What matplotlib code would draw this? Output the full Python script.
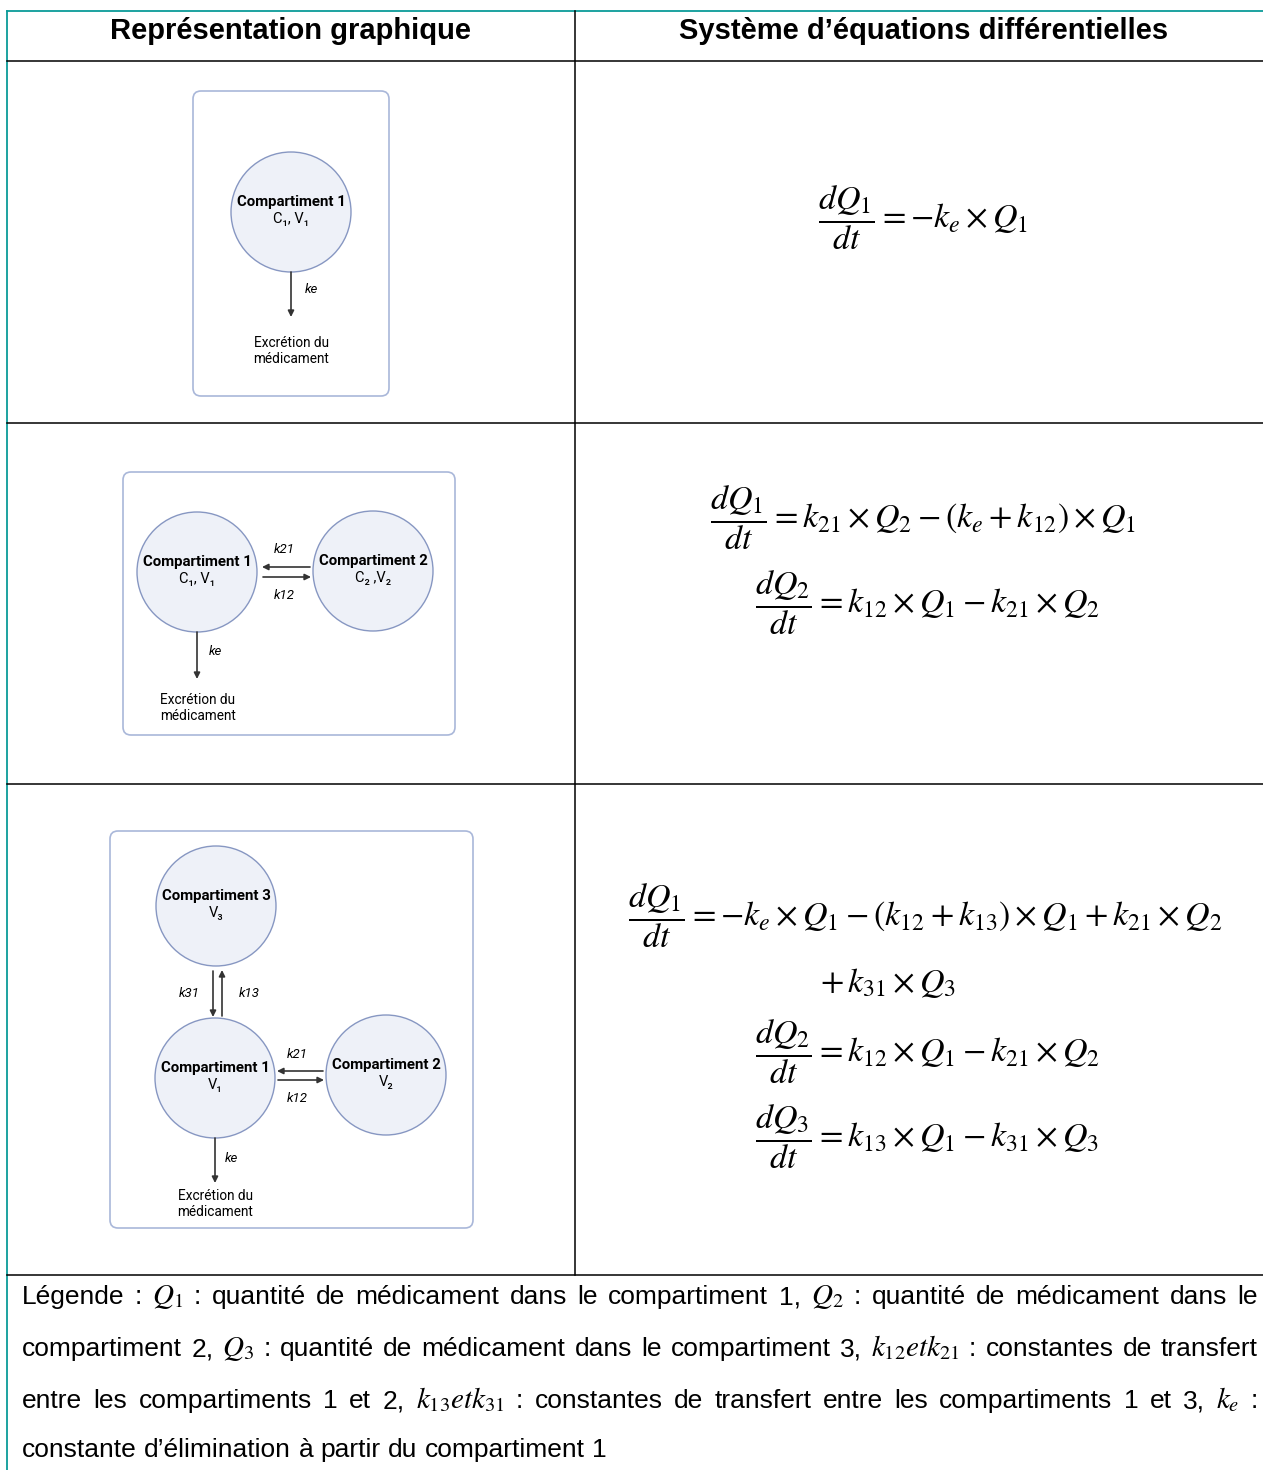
import matplotlib
matplotlib.use("Agg")
import matplotlib.pyplot as plt
from matplotlib.patches import Circle, FancyBboxPatch

plt.rcParams['mathtext.fontset'] = 'stix'

# ---- content ----
headers = ["Représentation graphique", "Système d’équations différentielles"]

row1_eqs = [r"$\dfrac{dQ_1}{dt} = -k_e \times Q_1$"]
row2_eqs = [r"$\dfrac{dQ_1}{dt} = k_{21} \times Q_2 - (k_e + k_{12}) \times Q_1$",
            r"$\dfrac{dQ_2}{dt} = k_{12} \times Q_1 - k_{21} \times Q_2$"]
row3_eqs = [r"$\dfrac{dQ_1}{dt} = -k_e \times Q_1 - (k_{12} + k_{13}) \times Q_1 + k_{21} \times Q_2$",
            r"$+\, k_{31} \times Q_3$",
            r"$\dfrac{dQ_2}{dt} = k_{12} \times Q_1 - k_{21} \times Q_2$",
            r"$\dfrac{dQ_3}{dt} = k_{13} \times Q_1 - k_{31} \times Q_3$"]

legend_lines = [
    ["Légende", ":", r"$Q_1$", ":", "quantité", "de", "médicament", "dans", "le",
     "compartiment", "1,", r"$Q_2$", ":", "quantité", "de", "médicament", "dans", "le"],
    ["compartiment", "2,", r"$Q_3$", ":", "quantité", "de", "médicament", "dans", "le",
     "compartiment", "3,", r"$k_{12}etk_{21}$", ":", "constantes", "de", "transfert"],
    ["entre", "les", "compartiments", "1", "et", "2,", r"$k_{13}etk_{31}$", ":", "constantes",
     "de", "transfert", "entre", "les", "compartiments", "1", "et", "3,", r"$k_e$", ":"],
    ["constante", "d’élimination", "à", "partir", "du", "compartiment", "1"],
]

comp1_sub = ["C₁, V₁", "C₁, V₁", "V₁"]
comp2_sub = ["C₂ ,V₂", "V₂"]
comp3_sub = "V₃"
excretion = "Excrétion du\nmédicament"

W, H = 1263, 1470
fig = plt.figure(figsize=(W / 100, H / 100), dpi=100)
ax = fig.add_axes([0, 0, 1, 1])
ax.set_xlim(0, W)
ax.set_ylim(H, 0)
ax.axis('off')

teal = '#0b9b98'
box_col = '#a9b7d9'
circ_face = '#eef1f8'
circ_edge = '#8797c2'
arrow_col = '#333333'
diag_font = ['Roboto', 'DejaVu Sans']

# ---- table lines ----
ax.plot([7, W], [11, 11], color=teal, lw=1.3)
ax.plot([7, 7], [11, H], color=teal, lw=1.3)
for y in [61, 423, 784, 1275]:
    ax.plot([7, W], [y, y], color='black', lw=1.1)
ax.plot([575, 575], [11, 1275], color='black', lw=1.1)

ax.text(291, 31, headers[0], ha='center', va='center', fontsize=21,
        fontweight='bold', family='Liberation Sans')
ax.text(924, 31, headers[1], ha='center', va='center', fontsize=21,
        fontweight='bold', family='Liberation Sans')


# ---- diagram helpers ----
def box(x0, y0, x1, y1):
    ax.add_patch(FancyBboxPatch((x0, y0), x1 - x0, y1 - y0,
                                boxstyle='round,pad=0,rounding_size=8',
                                fc='white', ec=box_col, lw=1.2))


def compartment(cx, cy, name, sub):
    ax.add_patch(Circle((cx, cy), 60, fc=circ_face, ec=circ_edge, lw=1.0))
    ax.text(cx, cy - 10, name, ha='center', va='center', fontsize=10.8,
            fontweight='bold', family=diag_font)
    ax.text(cx, cy + 7, sub, ha='center', va='center', fontsize=10.5,
            family=diag_font)


def arrow(x0, y0, x1, y1):
    ax.annotate('', xy=(x1, y1), xytext=(x0, y0),
                arrowprops=dict(arrowstyle='-|>', color=arrow_col, lw=1.2,
                                mutation_scale=9, shrinkA=0, shrinkB=0))


def klabel(x, y, s):
    ax.text(x, y, s, ha='center', va='center', fontsize=9.5,
            style='italic', family=diag_font)


def excr(x, y):
    ax.text(x, y, excretion, ha='center', va='center', fontsize=9.8,
            family=diag_font, linespacing=1.1)


# row 1
box(193, 91, 389, 396)
compartment(291, 212, "Compartiment 1", comp1_sub[0])
arrow(291, 272, 291, 317)
klabel(311, 289, "ke")
excr(291, 351)

# row 2
box(123, 472, 455, 735)
compartment(197, 572, "Compartiment 1", comp1_sub[1])
compartment(373, 571, "Compartiment 2", comp2_sub[0])
arrow(310, 567, 262, 567)
arrow(263, 577, 311, 577)
klabel(284, 549, "k21")
klabel(284, 595, "k12")
arrow(197, 632, 197, 679)
klabel(215, 651, "ke")
excr(198, 708)

# row 3
box(110, 831, 473, 1228)
compartment(216, 906, "Compartiment 3", comp3_sub)
compartment(215, 1078, "Compartiment 1", comp1_sub[2])
compartment(386, 1075, "Compartiment 2", comp2_sub[1])
arrow(213, 971, 213, 1017)
arrow(222, 1016, 222, 970)
klabel(189, 993, "k31")
klabel(249, 993, "k13")
arrow(323, 1071, 277, 1071)
arrow(278, 1080, 324, 1080)
klabel(297, 1054, "k21")
klabel(297, 1099, "k12")
arrow(215, 1138, 215, 1183)
klabel(231, 1159, "ke")
excr(215, 1204)

# ---- equations ----
eq_fs = 24.5
ax.text(923, 218, row1_eqs[0], ha='center', va='center', fontsize=eq_fs)
ax.text(710, 518, row2_eqs[0], ha='left', va='center', fontsize=eq_fs)
ax.text(755, 603, row2_eqs[1], ha='left', va='center', fontsize=eq_fs)
ax.text(628, 916, row3_eqs[0], ha='left', va='center', fontsize=eq_fs)
ax.text(820, 983, row3_eqs[1], ha='left', va='center', fontsize=eq_fs)
ax.text(755, 1052, row3_eqs[2], ha='left', va='center', fontsize=eq_fs)
ax.text(755, 1137, row3_eqs[3], ha='left', va='center', fontsize=eq_fs)

# ---- justified legend ----
leg_fs = 19
math_fs = 21
x_left, x_right = 22, 1258
baselines = [1304, 1356, 1408, 1457]
renderer = fig.canvas.get_renderer()
probe = ax.text(0, 0, "a a", fontsize=leg_fs, family='Liberation Sans')
probe2 = ax.text(0, 0, "aa", fontsize=leg_fs, family='Liberation Sans')
space_w = (probe.get_window_extent(renderer).width
           - probe2.get_window_extent(renderer).width)
probe.remove()
probe2.remove()
for i, words in enumerate(legend_lines):
    items = [ax.text(0, baselines[i], w, ha='left', va='baseline',
                     fontsize=math_fs if w.startswith('$') else leg_fs,
                     family='Liberation Sans') for w in words]
    widths = [t.get_window_extent(renderer).width for t in items]
    last = i == len(legend_lines) - 1
    if last:
        gap = space_w
    else:
        gap = (x_right - x_left - sum(widths)) / (len(words) - 1)
    x = x_left
    for t, w in zip(items, widths):
        t.set_x(x)
        x += w + gap

fig.savefig("out.png", dpi=100)
